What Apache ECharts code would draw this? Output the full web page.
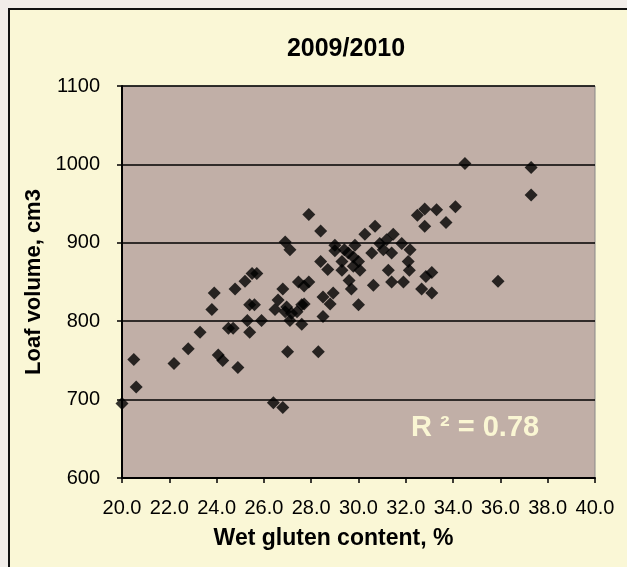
<!DOCTYPE html>
<html>
<head>
<meta charset="utf-8">
<script src="https://cdn.jsdelivr.net/npm/echarts@6/dist/echarts.min.js"></script>
<style>
  html, body { margin: 0; padding: 0; width: 627px; height: 567px; overflow: hidden; background: #f1ede9; }
  #frame { position: absolute; left: 8px; top: 8px; width: 700px; height: 700px; background: #faf7d6; border: 2px solid #111; }
  #chart { position: absolute; left: 0; top: 0; width: 627px; height: 567px; }
</style>
</head>
<body>
<div id="frame"></div>
<div id="chart"></div>
<script>
// Wet gluten content (%) and loaf volume (cm3), 2009/2010
const gluten = [
  20.0, 20.5, 20.6, 22.2, 22.8, 23.3, 23.8, 23.9, 24.07, 24.26,
  24.5, 24.7, 24.78, 24.9, 25.2, 25.3, 25.4, 25.4, 25.5, 25.6,
  25.7, 25.9, 26.4, 26.47, 26.6, 26.8, 26.8, 26.9, 26.9, 26.96,
  27.0, 27.1, 27.1, 27.17, 27.4, 27.46, 27.6, 27.6, 27.7, 27.7,
  27.9, 27.9, 28.3, 28.4, 28.4, 28.5, 28.5, 28.7, 28.8, 28.93,
  29.0, 29.0, 29.3, 29.3, 29.4, 29.57, 29.6, 29.7, 29.78, 29.78,
  29.85, 30.0, 30.0, 30.06, 30.27, 30.56, 30.63, 30.7, 30.9, 31.05,
  31.19, 31.26, 31.4, 31.4, 31.47, 31.83, 31.9, 32.1, 32.15, 32.18,
  32.49, 32.67, 32.8, 32.8, 32.85, 33.1, 33.1, 33.3, 33.7, 34.1,
  34.5, 35.9, 37.3, 37.3
]
const volume = [
  695, 751, 716, 746, 765, 786, 815, 836, 757, 750,
  791, 791, 841, 741, 851, 801, 786, 821, 861, 821,
  861, 801, 696, 815, 827, 690, 841, 812, 901, 818,
  761, 801, 891, 810, 812, 850, 796, 821, 845, 822,
  850, 936, 761, 915, 876, 831, 806, 866, 822, 836,
  897, 890, 876, 865, 891, 887, 852, 841, 882, 870,
  897, 876, 821, 865, 911, 887, 846, 921, 899, 891,
  904, 865, 887, 850, 911, 899, 850, 876, 865, 891,
  935, 841, 943, 921, 857, 862, 836, 942, 926, 946,
  1001, 851, 996, 961
]
const yTicks = [600, 700, 800, 900, 1000, 1100]
const xTicks = [20, 22, 24, 26, 28, 30, 32, 34, 36, 38, 40]
const rSquared = 'R ² = 0.78'

const myChart = echarts.init(document.getElementById('chart'))

const options = {
    backgroundColor: 'transparent',
    animation: false,
    textStyle: { fontFamily: 'Liberation Sans, Arial, sans-serif' },
    // 标题
    title: {
        text: '2009/2010',
        left: 341,
        top: 32,
        textAlign: 'center',
        textStyle: { fontSize: 25, fontWeight: 'bold', color: '#000' }
    },
    grid: {
        left: 122,
        right: 32,
        top: 86,
        bottom: 89,
        show: true,
        backgroundColor: '#c1afa7',
        borderColor: '#888',
        borderWidth: 1
    },
    xAxis: {
        type: 'value',
        min: xTicks[0],
        max: xTicks[xTicks.length - 1],
        interval: 2,
        name: 'Wet gluten content, %',
        nameLocation: 'middle',
        nameGap: 49,
        nameTextStyle: { fontSize: 23, fontWeight: 'bold', color: '#000', padding: [0, 50, 0, 0] },
        axisLine: { show: true, lineStyle: { color: '#000', width: 2 } },
        axisTick: { show: true, inside: false, length: 5, lineStyle: { color: '#000', width: 1.5 } },
        axisLabel: { color: '#000', fontSize: 20, margin: 20, formatter: (v) => v.toFixed(1) },
        splitLine: { show: false }
    },
    yAxis: {
        type: 'value',
        min: yTicks[0],
        max: yTicks[yTicks.length - 1],
        interval: 100,
        name: 'Loaf volume, cm3',
        nameLocation: 'middle',
        nameGap: 73,
        nameTextStyle: { fontSize: 22, fontWeight: 'bold', color: '#000' },
        axisLine: { show: true, lineStyle: { color: '#000', width: 2 } },
        axisTick: { show: true, inside: false, length: 5, lineStyle: { color: '#000', width: 1.5 } },
        axisLabel: { color: '#000', fontSize: 20, margin: 22, formatter: (v) => String(v) },
        splitLine: { show: true, lineStyle: { color: '#000', width: 1.5 } }
    },
    // R² 文字
    graphic: [{
        type: 'text',
        left: 411,
        top: 413,
        style: {
            text: rSquared,
            fill: '#faf6d3',
            font: 'bold 29px "Liberation Sans", Arial, sans-serif'
        }
    }],
    series: {
        type: 'scatter',
        symbol: 'diamond',
        symbolSize: 13,
        data: gluten.map((x, i) => [x, volume[i]]),
        itemStyle: { color: '#000' }
    }
}

myChart.setOption(options)
</script>
</body>
</html>
